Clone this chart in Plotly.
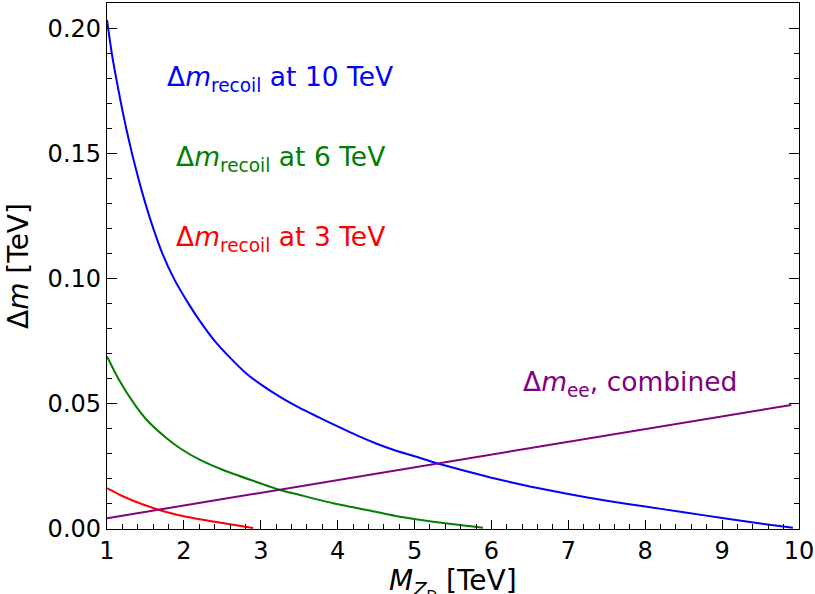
import plotly.graph_objects as go

# Data
x_10tev = [1.0, 1.063, 1.121, 1.183, 1.251, 1.326, 1.409, 1.501, 1.604, 1.722, 1.872, 2.062,
           2.2, 2.4, 2.6, 2.8, 3.0, 3.25, 3.5, 3.75, 4.0, 4.25, 4.5, 4.75, 5.0, 5.3, 5.6,
           6.0, 6.5, 7.0, 7.5, 8.0, 8.5, 9.0, 9.5, 9.92]
y_10tev = [0.2035, 0.19, 0.18, 0.17, 0.16, 0.15, 0.14, 0.13, 0.12, 0.11, 0.10, 0.09,
           0.0835, 0.0752, 0.0685, 0.0625, 0.0578, 0.0528, 0.0485, 0.0447, 0.0410, 0.0374, 0.0342,
           0.0314, 0.0291, 0.0262, 0.0237, 0.0205, 0.0170, 0.0140, 0.0113, 0.0090, 0.0067,
           0.0044, 0.0022, 0.0005]

x_6tev = [1.0, 1.15, 1.35, 1.52, 1.78, 1.95, 2.21, 2.51, 3.25, 3.51, 3.94, 4.38, 4.81, 5.24, 5.89]
y_6tev = [0.069, 0.060, 0.0502, 0.0435, 0.0362, 0.0323, 0.0276, 0.0236, 0.0156, 0.0136, 0.0103,
          0.0076, 0.0049, 0.0029, 0.0005]

x_3tev = [1.0, 1.17, 1.35, 1.67, 2.0, 2.21, 2.5, 2.9]
y_3tev = [0.0163, 0.0136, 0.0112, 0.0077, 0.0051, 0.0039, 0.0024, 0.0004]

x_ee = [1.0, 9.9]
y_ee = [0.0043, 0.0496]

x_ticks = [1, 2, 3, 4, 5, 6, 7, 8, 9, 10]
y_ticks = [0.00, 0.05, 0.10, 0.15, 0.20]
y_tick_labels = ["0.00", "0.05", "0.10", "0.15", "0.20"]

FONT = "DejaVu Sans"

fig = go.Figure()
for xs, ys, col in [(x_10tev, y_10tev, "blue"), (x_6tev, y_6tev, "green"),
                    (x_3tev, y_3tev, "red"), (x_ee, y_ee, "purple")]:
    fig.add_trace(go.Scatter(x=xs, y=ys, mode="lines",
                             line=dict(color=col, width=2, shape="spline", smoothing=0.5),
                             showlegend=False, hoverinfo="skip"))

labels = [
    (1.757, 0.180, "blue", "Δ<i>m</i><sub>recoil</sub> at 10 TeV"),
    (1.874, 0.148, "green", "Δ<i>m</i><sub>recoil</sub> at 6 TeV"),
    (1.874, 0.116, "red", "Δ<i>m</i><sub>recoil</sub> at 3 TeV"),
    (6.39, 0.0583, "purple", "Δ<i>m</i><sub>ee</sub>, combined"),
]
for x, y, col, txt in labels:
    fig.add_annotation(x=x, y=y, text=txt, showarrow=False, xanchor="left", yanchor="middle",
                       font=dict(family=FONT, size=26.5, color=col))

# x-axis title placed as paper annotation (below the tick labels)
fig.add_annotation(x=0.5, y=-0.104, xref="paper", yref="paper", showarrow=False,
                   xanchor="center", yanchor="middle",
                   text="<i>M</i><sub><i>Z</i><sub>D</sub></sub> [TeV]",
                   font=dict(family=FONT, size=28, color="black"))

axis_common = dict(
    showgrid=False, zeroline=False, showline=True, linecolor="black", linewidth=1.3,
    automargin=False,
    ticks="inside", tickcolor="black", tickwidth=1, tickfont=dict(family=FONT, size=24, color="black"),
)
fig.update_xaxes(**axis_common, range=[1, 10], tickvals=x_ticks, ticklen=9, mirror=True,
                 minor=dict(dtick=0.2, ticks="inside", ticklen=5, tickcolor="black", tickwidth=1))
fig.update_yaxes(**axis_common, range=[0, 0.2103], tickvals=y_ticks, ticktext=y_tick_labels,
                 ticklen=10, mirror="allticks",
                 minor=dict(dtick=0.01, ticks="inside", ticklen=5, tickcolor="black", tickwidth=1),
                 title=dict(text="Δ<i>m</i> [TeV]", font=dict(family=FONT, size=28, color="black"),
                            standoff=10))

fig.update_layout(width=815, height=594, margin=dict(l=107, r=16, t=3, b=65, autoexpand=False),
                  plot_bgcolor="white", paper_bgcolor="white", font=dict(family=FONT))

fig.write_html("out.html", config={"displayModeBar": False},
               post_script="document.body.style.margin='0';")
